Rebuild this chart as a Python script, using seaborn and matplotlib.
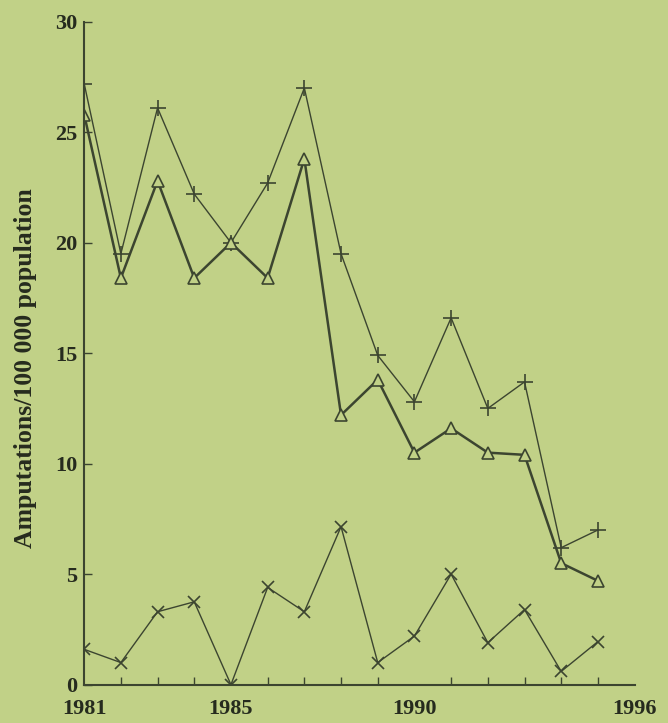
import matplotlib
matplotlib.use("Agg")
import matplotlib.pyplot as plt
import seaborn as sns
import pandas as pd

years = list(range(1981, 1996))
total = [27.2, 19.5, 26.1, 22.2, 20.0, 22.7, 27.0, 19.5, 14.9, 12.8, 16.6, 12.5, 13.7, 6.2, 7.0]
triangle = [25.8, 18.4, 22.8, 18.4, 20.0, 18.4, 23.8, 12.2, 13.8, 10.5, 11.6, 10.5, 10.4, 5.5, 4.7]
cross = [1.6, 1.0, 3.3, 3.75, 0.0, 4.4, 3.3, 7.15, 1.0, 2.2, 5.0, 1.9, 3.4, 0.6, 1.95]

x_labels = ["1981", "1985", "1990", "1996"]
x_label_pos = [1981, 1985, 1990, 1996]
y_ticks = [0, 5, 10, 15, 20, 25, 30]

bg = "#c1d187"
ink = "#3c4530"
txt = "#262b1e"

sns.set_style("ticks")
plt.rcParams['font.family'] = ['Liberation Serif', 'DejaVu Serif']

fig = plt.figure(figsize=(6.68, 7.23), dpi=100, facecolor=bg)
ax = fig.add_axes([0.126, 0.053, 0.824, 0.917])
ax.set_facecolor(bg)

df = pd.DataFrame({"year": years, "total": total, "tri": triangle, "cross": cross})

# three series: + (total), triangles, x
sns.lineplot(data=df, x="year", y="total", ax=ax, color=ink, lw=1.0,
             marker="+", markersize=11, markeredgewidth=1.2, markeredgecolor=ink)
sns.lineplot(data=df, x="year", y="tri", ax=ax, color=ink, lw=1.8,
             marker="^", markersize=9, markerfacecolor=bg, markeredgewidth=1.2,
             markeredgecolor=ink)
sns.lineplot(data=df, x="year", y="cross", ax=ax, color=ink, lw=1.0,
             marker="x", markersize=8, markeredgewidth=1.2, markeredgecolor=ink)

ax.set_xlim(1981, 1996)
ax.set_ylim(0, 30)
ax.set_xticks(x_label_pos)
ax.set_xticklabels(x_labels, fontweight="bold", fontsize=16, color=txt)
ax.set_xticks(years, minor=True)
ax.set_yticks(y_ticks)
ax.set_yticklabels([str(v) for v in y_ticks], fontweight="bold", fontsize=16, color=txt)
ax.tick_params(axis="both", which="both", direction="in", color=ink, width=1.0)
ax.tick_params(axis="x", which="minor", length=6)
ax.tick_params(axis="x", which="major", length=0, pad=10)
ax.tick_params(axis="y", which="major", length=6, pad=5)

ax.set_xlabel("")
ax.set_ylabel("Amputations/100 000 population", fontweight="bold", fontsize=18.5,
              color=txt)
ax.yaxis.set_label_coords(-0.085, 0.477)

sns.despine(ax=ax)
for s in ["left", "bottom"]:
    ax.spines[s].set_color(ink)
    ax.spines[s].set_linewidth(1.5)

fig.savefig("out.png", dpi=100, facecolor=bg)
